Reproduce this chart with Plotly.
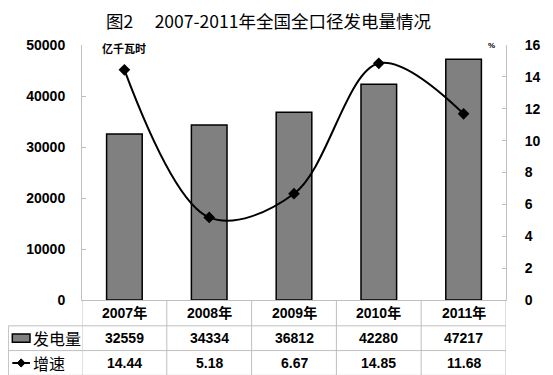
import plotly.graph_objects as go

# ---- data ----
years = ["2007年", "2008年", "2009年", "2010年", "2011年"]
generation = [32559, 34334, 36812, 42280, 47217]      # 亿千瓦时
growth = [14.44, 5.18, 6.67, 14.85, 11.68]             # %
gen_labels = ["32559", "34334", "36812", "42280", "47217"]
growth_labels = ["14.44", "5.18", "6.67", "14.85", "11.68"]
series_names = ["发电量", "增速"]
title_text = "图2\u3000 2007-2011年全国全口径发电量情况"

# ---- geometry (page pixels; page body has an 8px margin) ----
OFF = 8
W, H = 553 - OFF, 375 - OFF
PX0, PX1, PY0, PY1 = 82, 514, 45, 292
pw, ph = PX1 - PX0, PY1 - PY0


def px(x):
    return (x - PX0) / pw


def py(y):
    return (PY1 - y) / ph


idx = list(range(len(years)))
fig = go.Figure()
fig.add_trace(go.Bar(
    x=idx, y=generation, width=0.42, name=series_names[0],
    marker=dict(color="#808080", line=dict(color="#000000", width=1.5)),
    yaxis="y",
))
fig.add_trace(go.Scatter(
    x=idx, y=growth, name=series_names[1], mode="lines+markers",
    line=dict(color="#000000", width=2, shape="spline", smoothing=1.0),
    marker=dict(symbol="diamond", size=9, color="#000000"),
    yaxis="y2",
))

tickfont = dict(family="Liberation Sans, Arial, sans-serif", size=14,
                color="#000000", weight="bold")
gridc = "#bfbfbf"

fig.update_layout(
    width=W, height=H,
    margin=dict(l=PX0 - OFF, r=553 - PX1 - OFF, t=PY0 - OFF, b=375 - PY1 - OFF, pad=0),
    paper_bgcolor="white", plot_bgcolor="white",
    showlegend=False,
    xaxis=dict(range=[-0.5, len(years) - 0.5], showticklabels=False, ticks="",
               showline=True, linecolor=gridc, linewidth=1, showgrid=False,
               zeroline=False, fixedrange=True),
    yaxis=dict(range=[0, 50000], dtick=10000, showline=True, linecolor=gridc,
               linewidth=1, ticks="inside", ticklen=4, tickcolor=gridc,
               showgrid=False, zeroline=False, tickfont=tickfont,
               ticklabelstandoff=13, tickformat="d"),
    yaxis2=dict(range=[0, 16], dtick=2, overlaying="y", side="right",
                showline=True, linecolor=gridc, linewidth=1, ticks="inside",
                ticklen=4, tickcolor=gridc, showgrid=False, zeroline=False,
                tickfont=tickfont, ticklabelstandoff=15),
)

annotations = []
# title
annotations.append(dict(text=title_text, xref="paper", yref="paper",
                        x=px(272), y=py(21.5), xanchor="center", yanchor="middle",
                        showarrow=False,
                        font=dict(family="Noto Sans CJK SC", size=17.5, color="#000000")))
# unit labels
annotations.append(dict(text="<b>亿千瓦时</b>", xref="paper", yref="paper",
                        x=px(100), y=py(48), xanchor="left", yanchor="middle",
                        showarrow=False,
                        font=dict(family="Noto Sans CJK SC", size=11, color="#000000")))
annotations.append(dict(text="<b>%</b>", xref="paper", yref="paper",
                        x=px(499), y=py(45), xanchor="center", yanchor="middle",
                        showarrow=False,
                        font=dict(family="Liberation Sans", size=8, color="#000000")))

row_y = [py(304.5), py(329), py(353)]
cellfont = dict(family="Liberation Sans, Noto Sans CJK SC", size=14, color="#000000")
for i in idx:
    annotations.append(dict(text="<b>" + years[i] + "</b>", xref="x", yref="paper",
                            x=i, y=row_y[0], showarrow=False, font=cellfont,
                            xanchor="center", yanchor="middle"))
    annotations.append(dict(text="<b>" + gen_labels[i] + "</b>", xref="x", yref="paper",
                            x=i, y=row_y[1], showarrow=False, font=cellfont,
                            xanchor="center", yanchor="middle"))
    annotations.append(dict(text="<b>" + growth_labels[i] + "</b>", xref="x", yref="paper",
                            x=i, y=row_y[2], showarrow=False, font=cellfont,
                            xanchor="center", yanchor="middle"))
# row headers
for name, ry in zip(series_names, row_y[1:]):
    annotations.append(dict(text=name, xref="paper", yref="paper",
                            x=px(30), y=ry, xanchor="left", yanchor="middle",
                            showarrow=False,
                            font=dict(family="Noto Sans CJK SC", size=16, color="#000000")))
fig.update_layout(annotations=annotations)

shapes = []
line_style = dict(color=gridc, width=1)
# horizontal table lines
for yy in [317, 341, 365]:
    shapes.append(dict(type="line", xref="paper", yref="paper",
                       x0=px(7), x1=1, y0=py(yy), y1=py(yy), line=line_style))
# vertical table lines at category boundaries
for b in range(len(years) + 1):
    shapes.append(dict(type="line", xref="x", yref="paper",
                       x0=b - 0.5, x1=b - 0.5, y0=0, y1=py(365), line=line_style))
# left border
shapes.append(dict(type="line", xref="paper", yref="paper",
                   x0=px(7), x1=px(7), y0=py(317), y1=py(365), line=line_style))
# legend keys
shapes.append(dict(type="rect", xref="paper", yref="paper",
                   x0=px(11), x1=px(29), y0=py(333), y1=py(325),
                   fillcolor="#808080", line=dict(color="#000000", width=1.5)))
shapes.append(dict(type="line", xref="paper", yref="paper",
                   x0=px(11), x1=px(29), y0=py(353), y1=py(353),
                   line=dict(color="#000000", width=2)))
cx, cy, d = 20, 353, 4
path = "M {},{} L {},{} L {},{} L {},{} Z".format(
    px(cx - d), py(cy), px(cx), py(cy - d), px(cx + d), py(cy), px(cx), py(cy + d))
shapes.append(dict(type="path", xref="paper", yref="paper", path=path,
                   fillcolor="#000000", line=dict(color="#000000", width=1)))
fig.update_layout(shapes=shapes)

fig.write_html("out.html")
